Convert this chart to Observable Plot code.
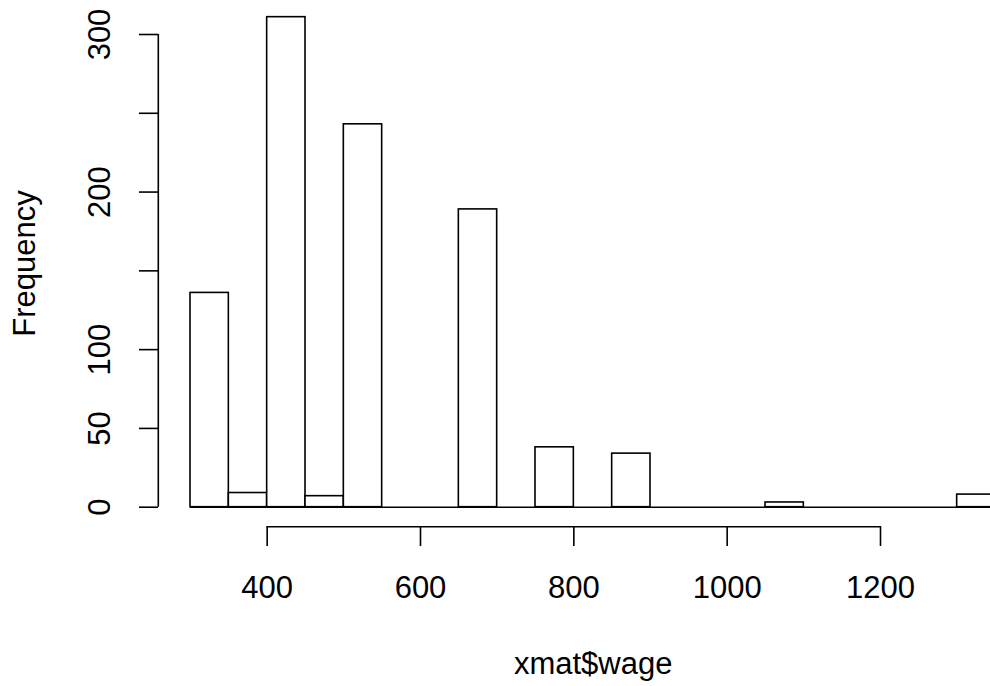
<!DOCTYPE html>
<html>
<head>
<meta charset="utf-8">
<script src="https://cdn.jsdelivr.net/npm/d3@7"></script>
<script src="https://cdn.jsdelivr.net/npm/@observablehq/plot@0.6"></script>
<style>
  html, body { margin: 0; padding: 0; background: #fff; overflow: hidden; }
  #chart svg { display: block; }
</style>
</head>
<body>
<div id="chart"></div>
<script>
// Histogram of xmat$wage (R hist, breaks of width 50)
const breaks = [300, 350, 400, 450, 500, 550, 600, 650, 700, 750, 800, 850, 900, 950, 1000, 1050, 1100, 1150, 1200, 1250, 1300, 1350];
const counts = [136, 9, 311, 7, 243, 0, 0, 189, 0, 38, 0, 34, 0, 0, 0, 3, 0, 0, 0, 0, 8];
const xTicks = [400, 600, 800, 1000, 1200];
const yTicks = [0, 50, 100, 150, 200, 250, 300];
const yTickLabels = [0, 50, 100, 200, 300];
const xTitle = "xmat$wage";
const yTitle = "Frequency";

const bins = counts.map((c, i) => ({x1: breaks[i], x2: breaks[i + 1], count: c}));

// R's plot region extends 4% beyond the data range
const xMin = breaks[0], xMax = breaks[breaks.length - 1];
const xUsrMin = xMin - 0.04 * (xMax - xMin);
const yUsrMin = -0.04 * d3.max(counts);

const font = "'Liberation Sans', Arial, Helvetica, sans-serif";
const fs = 31;
const lw = 1.6;

const chart = Plot.plot({
  width: 990,
  height: 686,
  marginLeft: 158,
  marginRight: 0,
  marginTop: 0,
  marginBottom: 160,
  style: {fontFamily: font, fontSize: fs + "px", color: "black", background: "white", overflow: "hidden"},
  x: {domain: [xMin, xMax], range: [190, 995], label: null},
  y: {domain: [0, 300], range: [506.7, 34], label: null},
  marks: [
    // baseline of zero-count bins (R draws zero-height rectangles)
    Plot.ruleY([0], {x1: xMin, x2: xMax, stroke: "black", strokeWidth: lw}),
    Plot.rect(bins, {x1: "x1", x2: "x2", y1: 0, y2: "count", fill: "white", stroke: "black", strokeWidth: lw, inset: 0}),
    // x axis
    Plot.ruleY([yUsrMin], {x1: xTicks[0], x2: xTicks[xTicks.length - 1], stroke: "black", strokeWidth: lw}),
    Plot.axisX(xTicks, {anchor: "bottom", tickSize: 20, tickPadding: 29, label: null, fontSize: fs, strokeWidth: lw, tickFormat: d => String(d)}),
    // y axis
    Plot.ruleX([xUsrMin], {y1: yTicks[0], y2: yTicks[yTicks.length - 1], stroke: "black", strokeWidth: lw}),
    Plot.axisY(yTicks, {anchor: "left", tickSize: 19, tickFormat: () => "", label: null, strokeWidth: lw}),
    Plot.text(yTickLabels, {y: d => d, text: d => String(d), frameAnchor: "left", dx: -58, rotate: -90, lineAnchor: "middle", textAnchor: "middle", fontSize: fs, fill: "black"}),
    // titles
    Plot.text([xTitle], {frameAnchor: "bottom", dy: 125, dx: 18.7, lineAnchor: "top", textAnchor: "middle", fontSize: fs, fill: "black"}),
    Plot.text([yTitle], {frameAnchor: "left", dx: -133, rotate: -90, lineAnchor: "middle", textAnchor: "middle", fontSize: fs, fill: "black"})
  ]
});
document.getElementById("chart").appendChild(chart);
</script>
</body>
</html>
